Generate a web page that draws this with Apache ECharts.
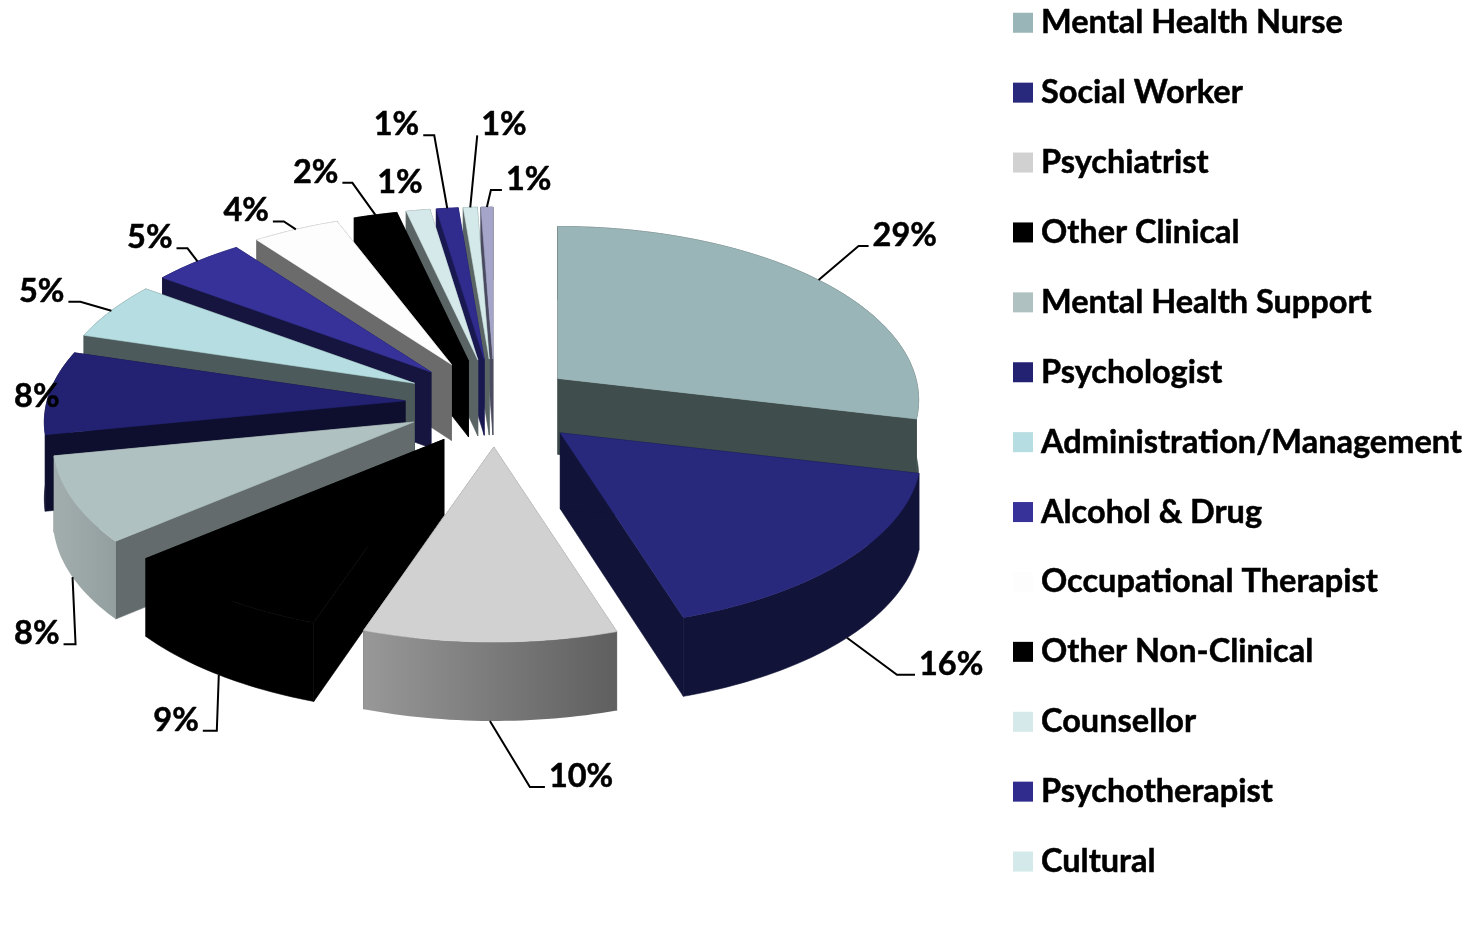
<!DOCTYPE html>
<html>
<head>
<meta charset="utf-8">
<style>
  html, body { margin: 0; padding: 0; background: #fff; }
  #pie { width: 1478px; height: 926px; }
</style>
<script src="https://cdn.jsdelivr.net/npm/echarts@6/dist/echarts.min.js"></script>
</head>
<body>
<div id="pie"></div>
<script>
// data, percent of staff
var categories = ["Mental Health Nurse", "Social Worker", "Psychiatrist", "Other Clinical", "Mental Health Support", "Psychologist", "Administration/Management", "Alcohol & Drug", "Occupational Therapist", "Other Non-Clinical", "Counsellor", "Psychotherapist", "Cultural", "Mental Health Consumer"];
var values = [28.7, 16.4, 10.1, 8.7, 8.0, 7.8, 5.4, 4.7, 4.4, 2.2, 1.2, 1.1, 0.7, 0.6];

// colours
var topColors = ["#9ab5b7", "#28287c", "#d1d1d1", "#000000", "#b0c1c2", "#232272", "#b6dde1", "#36329a", "#fdfdfd", "#000000", "#d5e9eb", "#2f2c8e", "#d3e9ea", "#a5a5c9"];
var wallColors = ["#3f4d4d", "#111338", "#666666", "#000000", "#636b6c", "#0e0f2f", "#4d5a5b", "#16153f", "#6b6b6b", "#000000", "#5a6464", "#1a1850", "#5a6464", "#4a4a60"];
// outer wall gradient, only two slices have one
var rimGradients = { 2: ["#989898", "#5f5f5f"], 4: ["#a3adad", "#939f9f"] };

// pie layout
var centerX = 494.6, centerY = 403;
var explodeX = 89.6, explodeY = 44;
// first slice is pulled out a bit less than the rest
var explodeScale = { 0: 0.9 };
var radiusX = 358, radiusY = 170.8;
var perspective = 0.124;
var fontName = "Lato";
var fontSize = 32.5;

// leader line per slice: to elbow dx, dy, then tail length. null = no line
var leaders = [[40, -34, 10], [50, 37, 18], [40, 66, 15], [-2, 56, -14], [3, 67, -12], null, [-31, -9, -12], [-10, -13, -11], [-12, -8, -11], [-23, -32, -10], null, [-13, -73, -11], [7, -72, 0], [4, -17, 11]];
// labels with no leader sit at this offset from the rim
var freeLabels = { 5: [-13, 4], 10: [-18, -28] };

var total = 0;
for (var i = 0; i < values.length; i++) total += values[i];

// slice angles, clockwise from the top
var slices = [];
var sum = 0;
for (var i = 0; i < values.length; i++) {
  var a0 = (sum / total) * Math.PI * 2;
  sum += values[i];
  var a1 = (sum / total) * Math.PI * 2;
  var mid = (a0 + a1) / 2;
  var scale = explodeScale[i] || 1;
  slices.push({
    start: a0,
    end: a1,
    mid: mid,
    apexX: centerX + explodeX * scale * Math.sin(mid),
    apexY: centerY - explodeY * scale * Math.cos(mid)
  });
}

function rimPoint(s, angle, drop) {
  var X = Math.sin(angle);
  var Y = -Math.cos(angle);
  var p = 1 / (1 - perspective * Y);
  var y = s.apexY + radiusY * Y * p;
  if (drop) y += wallDepth(Y);
  return [s.apexX + radiusX * X * p, y];
}

function wallDepth(Y) {
  return 76 + 3 * Y;
}

function arcPoints(s, drop) {
  var pts = [];
  var n = Math.max(2, Math.ceil((s.end - s.start) / 0.02));
  for (var i = 0; i <= n; i++) {
    pts.push(rimPoint(s, s.start + ((s.end - s.start) * i) / n, drop));
  }
  return pts;
}

// thin stroke in the same colour hides the seams between faces
function poly(points, fill, edge) {
  return {
    type: "polygon",
    shape: { points: points },
    style: { fill: fill, stroke: edge, lineWidth: 0.6 },
    silent: true
  };
}

function radialFace(s, angle, color) {
  var top = rimPoint(s, angle, false);
  var low = rimPoint(s, angle, true);
  return poly([[s.apexX, s.apexY], top, low, [s.apexX, s.apexY + wallDepth(0)]], color, color);
}

function renderSlice(index) {
  var s = slices[index];
  var apex = [s.apexX, s.apexY];
  var topArc = arcPoints(s, false);
  var lowArc = arcPoints(s, true);
  var rimFill = wallColors[index];
  var rimEdge = wallColors[index];
  if (rimGradients[index]) {
    rimFill = new echarts.graphic.LinearGradient(0, 0, 1, 0, [
      { offset: 0, color: rimGradients[index][0] },
      { offset: 1, color: rimGradients[index][1] }
    ]);
    rimEdge = null;
  }
  return {
    type: "group",
    children: [
      radialFace(s, s.end, wallColors[index]),
      radialFace(s, s.start, wallColors[index]),
      poly(topArc.concat(lowArc.slice().reverse()), rimFill, rimEdge),
      poly([apex].concat(topArc), topColors[index], topColors[index])
    ]
  };
}

function renderLabel(params, api) {
  var index = params.dataIndex;
  var s = slices[index];
  var Y = -Math.cos(s.mid);
  var from = rimPoint(s, s.mid, Y > 0);
  var text = Math.round(api.value(0)) + "%";
  var children = [];
  var textX, textY, align;
  var leader = leaders[index];
  if (leader) {
    var elbow = [from[0] + leader[0], from[1] + leader[1]];
    var tail = [elbow[0] + leader[2], elbow[1]];
    children.push({
      type: "polyline",
      shape: { points: [from, elbow, tail] },
      style: { stroke: "#000", lineWidth: 2, fill: null },
      silent: true
    });
    var side = leader[2] !== 0 ? leader[2] : leader[0];
    align = side < 0 ? "right" : "left";
    textX = tail[0] + (side < 0 ? -4 : 4);
    textY = tail[1] - 10.5;
  } else {
    align = "center";
    textX = from[0] + freeLabels[index][0];
    textY = from[1] + freeLabels[index][1];
  }
  children.push({
    type: "text",
    style: {
      x: textX,
      y: textY,
      text: text,
      align: align,
      verticalAlign: "middle",
      fill: "#000",
      stroke: "#000",
      lineWidth: 0.5,
      fontFamily: fontName,
      fontWeight: "bold",
      fontSize: fontSize
    },
    silent: true
  });
  return { type: "group", children: children };
}

// back slices get drawn first
var order = slices.map(function (s, i) { return i; }).sort(function (a, b) {
  return slices[a].apexY - slices[b].apexY;
});

var series = [];
categories.forEach(function (name, i) {
  series.push({
    type: "custom",
    name: name,
    coordinateSystem: "none",
    z: 2 + order.indexOf(i),
    itemStyle: { color: topColors[i] },
    data: [values[i]],
    renderItem: function () {
      return renderSlice(i);
    }
  });
});
series.push({
  type: "custom",
  name: "labels",
  coordinateSystem: "none",
  z: 30,
  data: values,
  renderItem: renderLabel
});

var chart = echarts.init(document.getElementById("pie"));
chart.setOption({
  animation: false,
  backgroundColor: "#fff",
  tooltip: { show: false },
  legend: {
    data: categories,
    orient: "vertical",
    left: 1013,
    top: 6,
    height: 920,
    padding: 0,
    icon: "rect",
    itemWidth: 20,
    itemHeight: 20,
    itemGap: 36.4,
    selectedMode: false,
    textStyle: {
      color: "#000",
      fontFamily: fontName,
      fontWeight: "bold",
      fontSize: fontSize,
      lineHeight: 32,
      textBorderColor: "#000",
      textBorderWidth: 0.5,
      padding: [0, 0, 0, 3]
    }
  },
  series: series
});
</script>
</body>
</html>
